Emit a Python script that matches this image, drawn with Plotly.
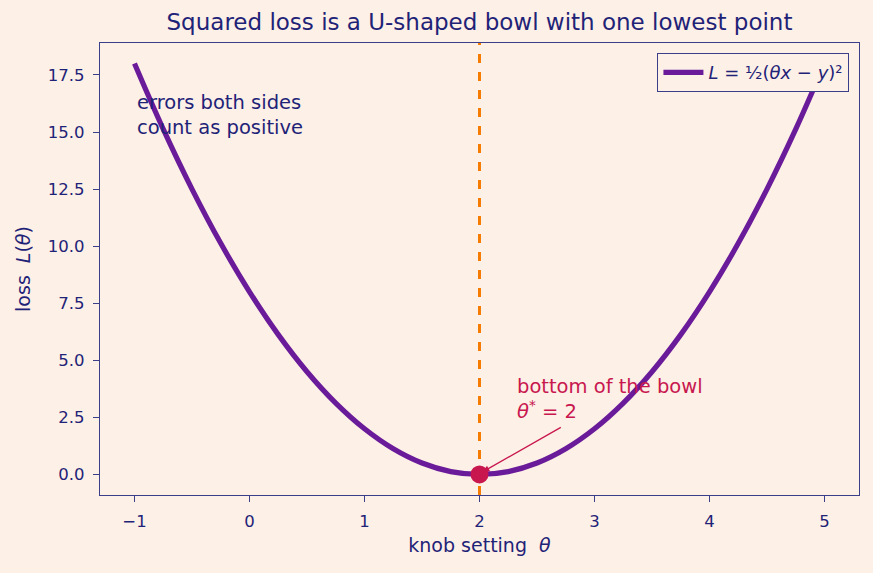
import plotly.graph_objects as go

theta = [-1.0, -0.75, -0.5, -0.25, 0.0, 0.25, 0.5, 0.75, 1.0, 1.25, 1.5, 1.75, 2.0,
         2.25, 2.5, 2.75, 3.0, 3.25, 3.5, 3.75, 4.0, 4.25, 4.5, 4.75, 5.0]
loss = [18.0, 15.125, 12.5, 10.125, 8.0, 6.125, 4.5, 3.125, 2.0, 1.125, 0.5, 0.125, 0.0,
        0.125, 0.5, 1.125, 2.0, 3.125, 4.5, 6.125, 8.0, 10.125, 12.5, 15.125, 18.0]
best_theta = [2.0]
best_loss = [0.0]
x_ticks = [-1, 0, 1, 2, 3, 4, 5]
y_ticks = [0.0, 2.5, 5.0, 7.5, 10.0, 12.5, 15.0, 17.5]

NAVY = "#1f2378"
AXIS = "#3b3f8a"
BG = "#fdf0e6"
PURPLE = "#6a1b9a"
ORANGE = "#f57c00"
CRIMSON = "#c8174f"
FONT = "DejaVu Sans"

fig = go.Figure()
fig.add_trace(go.Scatter(
    x=theta, y=loss, mode="lines", line=dict(color=PURPLE, width=5.2, shape="spline"),
    name="<i>L</i> = ½(<i>θx</i> − <i>y</i>)²"))
fig.add_trace(go.Scatter(
    x=best_theta, y=best_loss, mode="markers", marker=dict(color=CRIMSON, size=18),
    showlegend=False))

fig.add_vline(x=best_theta[0], line=dict(color=ORANGE, width=3, dash="dash"), layer="below")

fig.add_annotation(x=best_theta[0] + 0.03, y=best_loss[0] + 0.12, ax=2.72, ay=2.1,
                   xref="x", yref="y", axref="x", ayref="y", text="",
                   showarrow=True, arrowhead=2, arrowsize=1, arrowwidth=1.3,
                   arrowcolor=CRIMSON)
fig.add_annotation(x=2.31, y=4.45, xref="x", yref="y", xanchor="left", yanchor="top",
                   align="left", showarrow=False,
                   text="bottom of the bowl<br><i>θ</i><sup>*</sup> = 2",
                   font=dict(color=CRIMSON, size=19.5, family=FONT))
fig.add_annotation(x=-1.0, y=16.9, xref="x", yref="y", xanchor="left", yanchor="top",
                   align="left", showarrow=False,
                   text="errors both sides<br>count as positive",
                   font=dict(color=NAVY, size=19.5, family=FONT))

axis_common = dict(showline=True, linecolor=AXIS, linewidth=1.3, mirror=True,
                   ticks="outside", tickcolor=AXIS, ticklen=6, tickwidth=1.3,
                   showgrid=False, zeroline=False, ticklabelstandoff=5,
                   tickfont=dict(color=NAVY, size=16.5, family=FONT))

fig.update_layout(
    width=873, height=573,
    paper_bgcolor=BG, plot_bgcolor=BG,
    margin=dict(l=100, r=14, t=43, b=78),
    font=dict(family=FONT, color=NAVY),
    title=dict(text="Squared loss is a U-shaped bowl with one lowest point",
               x=0.5, xref="paper", xanchor="center", y=0.975, yanchor="top",
               font=dict(size=23, color=NAVY, family=FONT)),
    xaxis=dict(range=[-1.3, 5.3], tickvals=x_ticks,
               title=dict(text="knob setting  <i>θ</i>", font=dict(size=19, color=NAVY), standoff=8),
               **axis_common),
    yaxis=dict(range=[-0.9, 18.9], tickvals=y_ticks, tickformat=".1f",
               title=dict(text="loss  <i>L</i>(<i>θ</i>)", font=dict(size=19, color=NAVY), standoff=12),
               **axis_common),
    legend=dict(x=0.987, y=0.978, xanchor="right", yanchor="top",
                bgcolor=BG, bordercolor=AXIS, borderwidth=1.3, itemwidth=40,
                font=dict(size=18, color=NAVY, family=FONT)),
    showlegend=True,
)

fig.write_html("out.html")
